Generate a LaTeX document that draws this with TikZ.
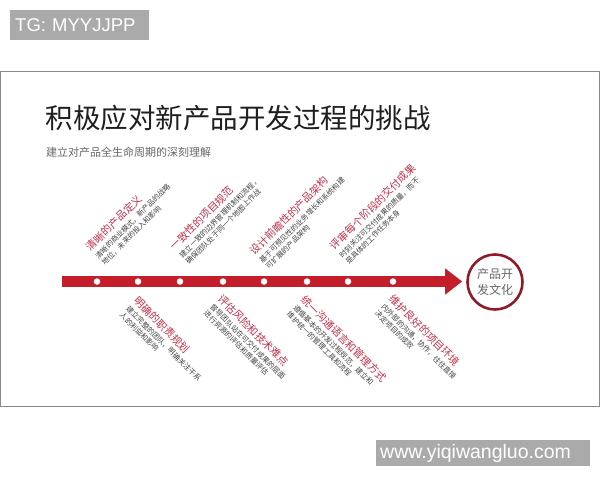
\documentclass[tikz,border=0pt]{standalone}
\usepackage{fontspec}
\setmainfont{Liberation Sans}
\newfontfamily\cjk{Noto Sans CJK SC}
\usetikzlibrary{arrows.meta}
\definecolor{arrowred}{HTML}{C41E2A}
\definecolor{titlered}{HTML}{C4304A}
\definecolor{circred}{HTML}{8E1C26}
\definecolor{descgray}{HTML}{444444}
\definecolor{tggray}{HTML}{AAAAAA}
\definecolor{framegray}{HTML}{8A8A8A}
\begin{document}
\begin{tikzpicture}[x=1pt,y=-1pt,
  ttl/.style={anchor=west, inner sep=0, text=titlered, font=\cjk\fontsize{10.5}{12}\selectfont},
  dsc/.style={anchor=west, inner sep=0, text=descgray, font=\cjk\fontsize{7.3}{8}\selectfont},
  upr/.style={rotate=45},
  lwr/.style={rotate=-45},
  dotn/.style={circle, fill=white, minimum size=6.5pt, inner sep=0}]
\useasboundingbox (0,0) rectangle (600,480);
\fill[white] (0,0) rectangle (600,480);

% tag and watermark
\node[fill=tggray, text=white, anchor=north west, inner xsep=5pt, inner ysep=0pt,
      text width=129pt, align=left, minimum height=30pt,
      font=\fontsize{18.5}{20}\selectfont] (tag) at (10,10) {TG: MYYJJPP};
\node[fill=tggray, text=white, anchor=north west, inner xsep=4pt, inner ysep=0pt,
      text width=206pt, align=left, minimum height=26pt,
      font=\fontsize{19.5}{21}\selectfont] (wm) at (376,440) {www.yiqiwangluo.com};

% frame
\draw[framegray, line width=1pt] (0.5,71) rectangle (599.5,406);

% headings
\node[anchor=west, inner sep=0, text=black!88, font=\cjk\fontsize{27.5}{30}\selectfont] (head) at (45.5,118) {积极应对新产品开发过程的挑战};
\node[anchor=west, inner sep=0, text=black!60, font=\cjk\fontsize{11}{12}\selectfont] (sub) at (46,152.5) {建立对产品全生命周期的深刻理解};

% goal circle
\node[circle, draw=circred, line width=2.6pt, minimum size=55pt, inner sep=0, align=center,
      text=black!60, font=\cjk\fontsize{12}{16}\selectfont] (culture) at (495,282) {产品开\\发文化};

% arrow
\coordinate (start) at (62,281.5);
\draw[arrowred, line width=11pt, shorten >=4pt, -{Triangle[length=17pt,width=25pt]}] (start) -- (start -| culture.west);

% dots
\foreach \x [count=\i] in {97,138,180,223,264,307,348,393}
  \node[dotn] (p\i) at (\x,281.5) {};

% upper groups
\begin{scope}[shift={(88,249)}, rotate=45]
  \node[ttl,upr] (u1t) at (0,0) {清晰的产品定义};
  \node[dsc,upr] (u1a) at (0,12) {清晰的商业模式，新产品的战略};
  \node[dsc,upr] (u1b) at (0,21) {地位，未来的投入和影响};
\end{scope}
\begin{scope}[shift={(172,248)}, rotate=45]
  \node[ttl,upr] (u2t) at (0,0) {一致性的项目规范};
  \node[dsc,upr] (u2a) at (0,12) {建立一致的边界管理机制和流程，};
  \node[dsc,upr] (u2b) at (0,21) {确保团队处于同一个地图上作战};
\end{scope}
\begin{scope}[shift={(252,253)}, rotate=45]
  \node[ttl,upr] (u3t) at (0,0) {设计前瞻性的产品架构};
  \node[dsc,upr] (u3a) at (0,12) {基于可预见性的业务增长和系统构建};
  \node[dsc,upr] (u3b) at (0,21) {可扩展的产品架构};
\end{scope}
\begin{scope}[shift={(332,248)}, rotate=45]
  \node[ttl,upr] (u4t) at (0,0) {评审每个阶段的交付成果};
  \node[dsc,upr] (u4a) at (0,12) {时刻关注可交付成果的质量，而不};
  \node[dsc,upr] (u4b) at (0,21) {是具体的工作任务本身};
\end{scope}

% lower groups
\begin{scope}[shift={(136,299)}, rotate=-45]
  \node[ttl,lwr] (l1t) at (0,0) {明确的职责规划};
  \node[dsc,lwr] (l1a) at (0,12) {建立完整的团队，明确关注干系};
  \node[dsc,lwr] (l1b) at (0,21) {人的利益和影响};
\end{scope}
\begin{scope}[shift={(220,297)}, rotate=-45]
  \node[ttl,lwr] (l2t) at (0,0) {评估风险和技术难点};
  \node[dsc,lwr] (l2a) at (0,12) {督导团队站在可交付成果的层面};
  \node[dsc,lwr] (l2b) at (0,21) {进行资源的评估和质量评估};
\end{scope}
\begin{scope}[shift={(303,298)}, rotate=-45]
  \node[ttl,lwr] (l3t) at (0,0) {统一沟通语言和管理方式};
  \node[dsc,lwr] (l3a) at (0,12) {遵循基本的开发过程规范，建立和};
  \node[dsc,lwr] (l3b) at (0,21) {维护统一的管理工具和流程};
\end{scope}
\begin{scope}[shift={(391,297)}, rotate=-45]
  \node[ttl,lwr] (l4t) at (0,0) {维护良好的项目环境};
  \node[dsc,lwr] (l4a) at (0,12) {内外部的沟通，协作，往往直接};
  \node[dsc,lwr] (l4b) at (0,21) {决定项目的成败};
\end{scope}
\end{tikzpicture}
\end{document}
